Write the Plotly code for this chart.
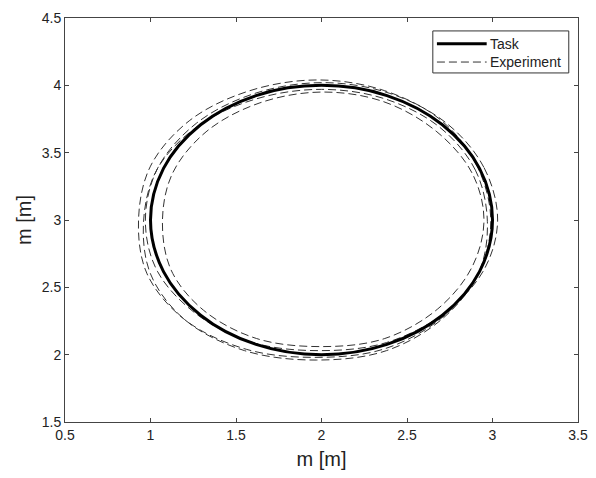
import plotly.graph_objects as go

# Reference trajectory (circle of radius 1 m around (2, 3)), sampled every 22.5 deg
task_x = [3.000, 2.924, 2.707, 2.383, 2.000, 1.617, 1.293, 1.076, 1.000,
          1.076, 1.293, 1.617, 2.000, 2.383, 2.707, 2.924, 3.000]
task_y = [3.000, 3.383, 3.707, 3.924, 4.000, 3.924, 3.707, 3.383, 3.000,
          2.617, 2.293, 2.076, 2.000, 2.076, 2.293, 2.617, 3.000]

# Measured trajectories from repeated runs
exp1_x = [2.99, 2.91, 2.70, 2.37, 1.98, 1.58, 1.23, 1.00, 0.93,
          0.98, 1.20, 1.56, 1.96, 2.36, 2.70, 2.92, 2.99]
exp1_y = [3.00, 3.40, 3.74, 3.96, 4.04, 3.96, 3.74, 3.40, 3.00,
          2.60, 2.26, 2.04, 1.98, 2.04, 2.27, 2.61, 3.00]

exp2_x = [2.95, 2.88, 2.67, 2.36, 2.00, 1.64, 1.33, 1.13, 1.07,
          1.12, 1.31, 1.62, 2.00, 2.37, 2.68, 2.88, 2.95]
exp2_y = [3.00, 3.35, 3.66, 3.88, 3.95, 3.87, 3.66, 3.35, 3.00,
          2.63, 2.33, 2.12, 2.06, 2.12, 2.34, 2.65, 3.00]

exp3_x = [3.03, 2.95, 2.73, 2.40, 2.01, 1.61, 1.27, 1.04, 0.97,
          1.04, 1.27, 1.60, 1.99, 2.38, 2.72, 2.95, 3.03]
exp3_y = [3.00, 3.39, 3.72, 3.94, 4.02, 3.94, 3.72, 3.38, 2.99,
          2.62, 2.30, 2.09, 2.03, 2.09, 2.31, 2.63, 3.00]

exp4_x = [2.97, 2.90, 2.69, 2.37, 2.00, 1.62, 1.28, 1.04, 0.96,
          1.00, 1.20, 1.55, 1.97, 2.38, 2.71, 2.92, 2.97]
exp4_y = [2.99, 3.37, 3.69, 3.90, 3.97, 3.90, 3.70, 3.38, 3.00,
          2.60, 2.26, 2.03, 1.96, 2.03, 2.27, 2.61, 2.99]

experiments = [(exp1_x, exp1_y), (exp2_x, exp2_y), (exp3_x, exp3_y), (exp4_x, exp4_y)]

x_ticks = [0.5, 1, 1.5, 2, 2.5, 3, 3.5]
y_ticks = [1.5, 2, 2.5, 3, 3.5, 4, 4.5]

legend_labels = ["Task", "Experiment"]

FONT = "Liberation Sans, Arial, sans-serif"
INK = "#222222"
DASH = "8px,4px"

fig = go.Figure()

for ex, ey in experiments:
    fig.add_trace(go.Scatter(
        x=ex, y=ey, mode="lines", name=legend_labels[1],
        line=dict(color="#333333", width=1, dash=DASH, shape="spline", smoothing=1.0),
        showlegend=False, hoverinfo="skip",
    ))

fig.add_trace(go.Scatter(
    x=task_x, y=task_y, mode="lines", name=legend_labels[0],
    line=dict(color="black", width=3, shape="spline", smoothing=1.0),
    showlegend=False,
))

axis_common = dict(
    showgrid=False, zeroline=False, automargin=False,
    showline=True, linecolor="#444444", linewidth=1, mirror="ticks",
    ticks="inside", ticklen=4, tickcolor="#444444",
    tickfont=dict(family=FONT, size=14, color=INK),
)

fig.update_xaxes(
    range=[0.5, 3.5], tickvals=x_ticks, ticktext=[f"{v:g}" for v in x_ticks],
    title=dict(text="m [m]", font=dict(family=FONT, size=20, color=INK), standoff=10),
    **axis_common,
)
fig.update_yaxes(
    range=[1.5, 4.5], tickvals=y_ticks, ticktext=[f"{v:g}" for v in y_ticks],
    title=dict(text="m [m]", font=dict(family=FONT, size=20, color=INK), standoff=4),
    **axis_common,
)

# Boxed legend in the upper-right corner of the axes
box = dict(x0=0.717, x1=0.982, y0=0.864, y1=0.968)
rows = [
    dict(y=0.936, line=dict(color="black", width=3)),
    dict(y=0.891, line=dict(color="#333333", width=1, dash=DASH)),
]
shapes = [dict(type="rect", xref="paper", yref="paper", **box,
               line=dict(color="#333333", width=1), fillcolor="white", layer="above")]
annotations = []
for label, row in zip(legend_labels, rows):
    shapes.append(dict(type="line", xref="paper", yref="paper",
                       x0=0.725, x1=0.822, y0=row["y"], y1=row["y"],
                       line=row["line"], layer="above"))
    annotations.append(dict(xref="paper", yref="paper", x=0.824, y=row["y"],
                            text=label, showarrow=False, xanchor="left", yanchor="middle",
                            font=dict(family=FONT, size=14, color=INK)))

fig.update_layout(
    width=596, height=478,
    margin=dict(l=65, r=18, t=18, b=56),
    plot_bgcolor="white", paper_bgcolor="white",
    font=dict(family=FONT, color=INK),
    showlegend=False,
    shapes=shapes,
    annotations=annotations,
)

fig.write_html("out.html")
